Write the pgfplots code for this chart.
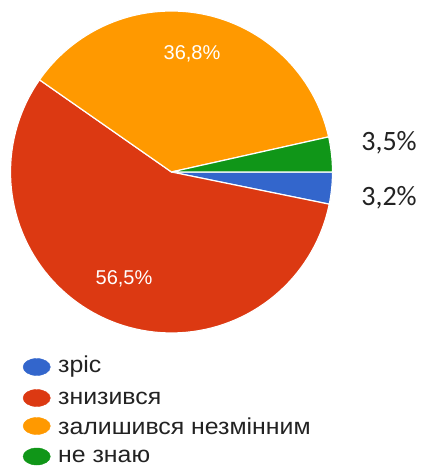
\documentclass[border=0pt]{standalone}
\usepackage{pgfplots}
\pgfplotsset{compat=1.18}
\usepackage{fontspec}
\setmainfont{Liberation Sans}
\newfontfamily\calibri{Carlito}
\newfontfamily\legfont[FakeStretch=1.08]{Liberation Sans}
\definecolor{gblue}{HTML}{3366CC}
\definecolor{gred}{HTML}{DC3912}
\definecolor{gorange}{HTML}{FF9900}
\definecolor{ggreen}{HTML}{109618}
\definecolor{txt}{HTML}{222222}
% shares in percent
\def\pA{3.2}  % зріс
\def\pB{56.5} % знизився
\def\pC{36.8} % залишився незмінним
\def\pD{3.5}  % не знаю
\pgfmathsetmacro\aA{-3.6*\pA}
\pgfmathsetmacro\aB{-3.6*(\pA+\pB)}
\pgfmathsetmacro\aC{-3.6*(\pA+\pB+\pC)}
\pgfmathsetmacro\aD{-3.6*(\pA+\pB+\pC+\pD)}
\newcommand\slice[3]{%
  \addplot[fill=#1, draw=white, line width=1.2pt, line join=round, domain=#2:#3, samples=90, variable=\t]
    ({171.5+161*cos(t)},{172-161*sin(t)}) -- (axis cs:171.5,172) -- cycle;}
\begin{document}
\begin{tikzpicture}
\begin{axis}[scale only axis, width=422bp, height=466bp,
  xmin=0, xmax=422, ymin=0, ymax=466, y dir=reverse,
  hide axis, clip=false]
\path (axis cs:0,0) rectangle (axis cs:422,466);
\slice{gblue}{\aA}{0}
\slice{gred}{\aB}{\aA}
\slice{gorange}{\aC}{\aB}
\slice{ggreen}{\aD}{\aC}
\node[text=white, font=\fontsize{20bp}{24bp}\selectfont] at (axis cs:192,54) {36,8\%};
\node[text=white, font=\fontsize{20bp}{24bp}\selectfont] at (axis cs:124,279) {56,5\%};
\node[text=txt, font=\calibri\fontsize{28bp}{32bp}\selectfont] at (axis cs:389,143) {3,5\%};
\node[text=txt, font=\calibri\fontsize{28bp}{32bp}\selectfont] at (axis cs:389,198) {3,2\%};
% legend
\addplot[only marks, mark=*, mark size=8.5bp, mark options={xscale=1.6, fill=gblue, draw=gblue}] coordinates {(36.7,367)};
\addplot[only marks, mark=*, mark size=8.5bp, mark options={xscale=1.6, fill=gred, draw=gred}] coordinates {(36.7,398)};
\addplot[only marks, mark=*, mark size=8.5bp, mark options={xscale=1.6, fill=gorange, draw=gorange}] coordinates {(36.7,426)};
\addplot[only marks, mark=*, mark size=8.5bp, mark options={xscale=1.6, fill=ggreen, draw=ggreen}] coordinates {(36.7,456.5)};
\begin{scope}[every node/.style={anchor=west, inner sep=0pt, text=txt, font=\legfont\fontsize{23bp}{26bp}\selectfont}]
\node at (axis cs:58,367) {зріс};
\node at (axis cs:58,398) {знизився};
\node at (axis cs:58,426) {залишився незмінним};
\node at (axis cs:58,456) {не знаю};
\end{scope}
\end{axis}
\end{tikzpicture}
\end{document}
